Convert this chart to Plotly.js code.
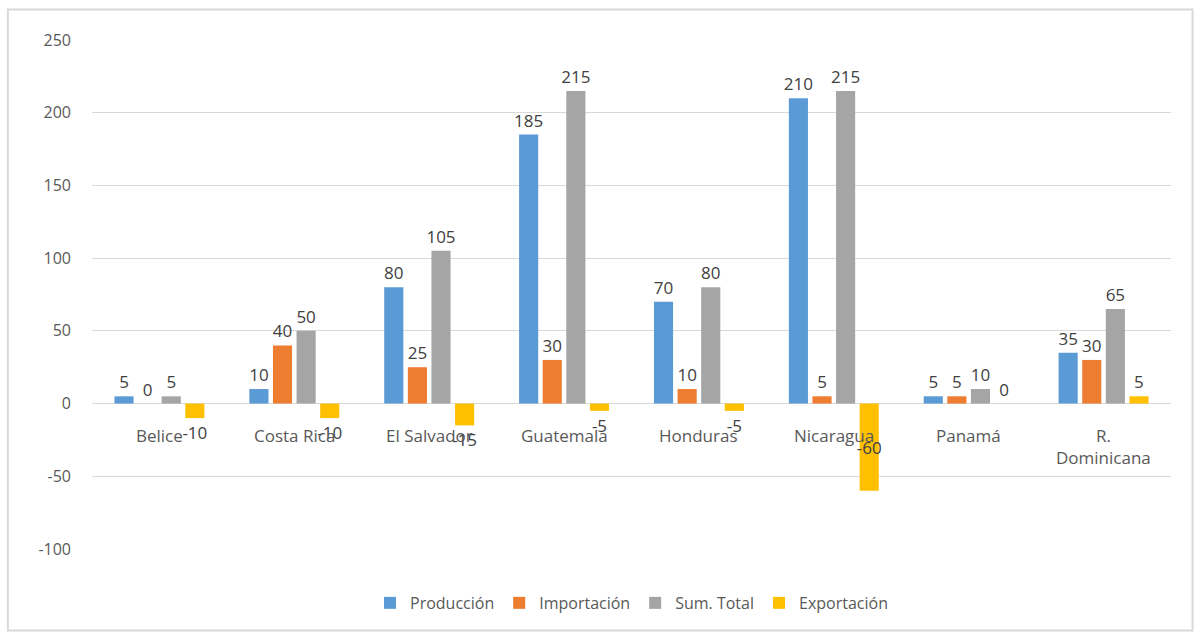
<!DOCTYPE html>
<html>
<head>
<meta charset="utf-8">
<script src="https://cdn.plot.ly/plotly-3.0.1.min.js"></script>
<style>html,body{margin:0;padding:0;background:#fff;}#chart{width:1201px;height:633px;}</style>
</head>
<body>
<div id="chart"></div>
<script>
const categories = ["Belice", "Costa Rica", "El Salvador", "Guatemala", "Honduras", "Nicaragua", "Panamá", "R. Dominicana"];
const categoryLabels = ["Belice", "Costa Rica", "El Salvador", "Guatemala", "Honduras", "Nicaragua", "Panamá", "R.<br>Dominicana"];
const produccion = [5, 10, 80, 185, 70, 210, 5, 35];
const importacion = [0, 40, 25, 30, 10, 5, 5, 30];
const sumTotal = [5, 50, 105, 215, 80, 215, 10, 65];
const exportacion = [-10, -10, -15, -5, -5, -60, 0, 5];
const seriesNames = ["Producción", "Importación", "Sum. Total", "Exportación"];
const seriesColors = ["#5B9BD5", "#ED7D31", "#A5A5A5", "#FFC000"];
const seriesValues = [produccion, importacion, sumTotal, exportacion];
const yTicks = [-100, -50, 0, 50, 100, 150, 200, 250];

const FONT = "Open Sans, Noto Sans, sans-serif";
const traces = seriesValues.map((vals, i) => ({
  type: "bar",
  name: seriesNames[i],
  x: categories,
  y: vals,
  marker: {color: seriesColors[i]},
  text: vals.map(String),
  textposition: vals.map(v => (v < -30 ? "inside" : "outside")),
  insidetextanchor: "middle",
  textangle: 0,
  constraintext: "none",
  cliponaxis: false,
  textfont: {family: FONT, size: 17, color: "#404040"},
  insidetextfont: {family: FONT, size: 17, color: "#404040"},
  outsidetextfont: {family: FONT, size: 17, color: "#404040"},
  hoverinfo: "none"
}));

const annotations = categories.map((c, i) => ({
  x: c, y: 0, xref: "x", yref: "y",
  text: categoryLabels[i],
  showarrow: false,
  yanchor: "top",
  yshift: -18,
  font: {family: FONT, size: 17, color: "#595959"}
}));

const layout = {
  width: 1201, height: 633,
  margin: {l: 92, r: 30, t: 40, b: 84},
  paper_bgcolor: "#ffffff",
  plot_bgcolor: "#ffffff",
  barmode: "group",
  bargap: 0.3,
  bargroupgap: 0.19,
  showlegend: true,
  legend: {
    orientation: "h", x: 0.5, xanchor: "center", y: -0.106, yanchor: "middle",
    font: {family: FONT, size: 16, color: "#595959"},
    itemwidth: 30, traceorder: "normal"
  },
  xaxis: {
    showticklabels: false, showgrid: false, zeroline: false, showline: false, ticks: ""
  },
  yaxis: {
    range: [-100, 250],
    tickvals: yTicks,
    ticktext: yTicks.map(String),
    showgrid: true, gridcolor: "#d9d9d9", gridwidth: 1,
    zeroline: true, zerolinecolor: "#d9d9d9", zerolinewidth: 1.5,
    showline: false, ticks: "",
    ticklabelstandoff: 20,
    tickfont: {family: FONT, size: 16, color: "#595959"}
  },
  annotations: annotations,
  shapes: [{
    type: "rect", xref: "paper", yref: "paper",
    x0: -0.078, x1: 1.02, y0: -0.16, y1: 1.06,
    line: {color: "#d9d9d9", width: 2}
  }]
};

Plotly.newPlot("chart", traces, layout, {staticPlot: true, displayModeBar: false});
</script>
</body>
</html>
